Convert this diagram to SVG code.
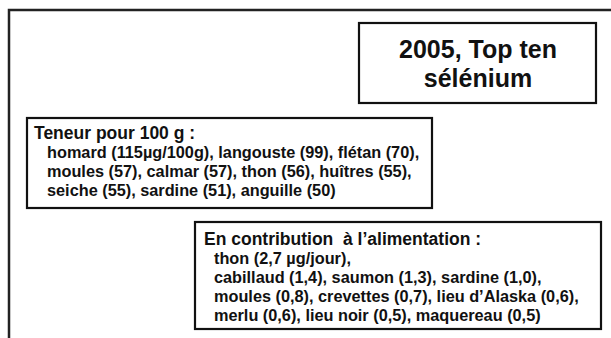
<svg xmlns="http://www.w3.org/2000/svg" width="611" height="338" viewBox="0 0 611 338">
<style>
  .frame { fill: none; stroke: #222; stroke-width: 2.5; }
  .box { fill: #fff; stroke: #111; stroke-width: 2.2; }
  .t { font-family: "Liberation Sans", Arial, sans-serif; font-weight: bold; fill: #111; }
  .title { font-size: 25px; text-anchor: middle; }
  .head { font-size: 17.5px; }
  .body { font-size: 16.3px; }
</style>
<rect width="611" height="338" fill="#fff"/>
<g id="frame">
  <path class="frame" d="M9,338 V10 H611"/>
</g>
<g id="title">
  <rect class="box" x="359" y="23" width="237" height="80"/>
  <text class="t title" x="478" y="58">2005, Top ten</text>
  <text class="t title" x="478" y="87">sélénium</text>
</g>
<g id="teneur">
  <rect class="box" x="27" y="118" width="405" height="90"/>
  <text class="t head" x="34" y="139">Teneur pour 100 g :</text>
  <text class="t body" x="47" y="158">homard (115µg/100g), langouste (99), flétan (70),</text>
  <text class="t body" x="47" y="177">moules (57), calmar (57), thon (56), huîtres (55),</text>
  <text class="t body" x="47" y="196">seiche (55), sardine (51), anguille (50)</text>
</g>
<g id="contribution">
  <rect class="box" x="195" y="222" width="406" height="107"/>
  <text class="t head" x="204" y="245" xml:space="preserve">En contribution  à l’alimentation :</text>
  <text class="t body" x="214" y="264">thon (2,7 µg/jour),</text>
  <text class="t body" x="214" y="283">cabillaud (1,4), saumon (1,3), sardine (1,0),</text>
  <text class="t body" x="214" y="302">moules (0,8), crevettes (0,7), lieu d’Alaska (0,6),</text>
  <text class="t body" x="214" y="321">merlu (0,6), lieu noir (0,5), maquereau (0,5)</text>
</g>
<g id="connectors"></g>
</svg>
